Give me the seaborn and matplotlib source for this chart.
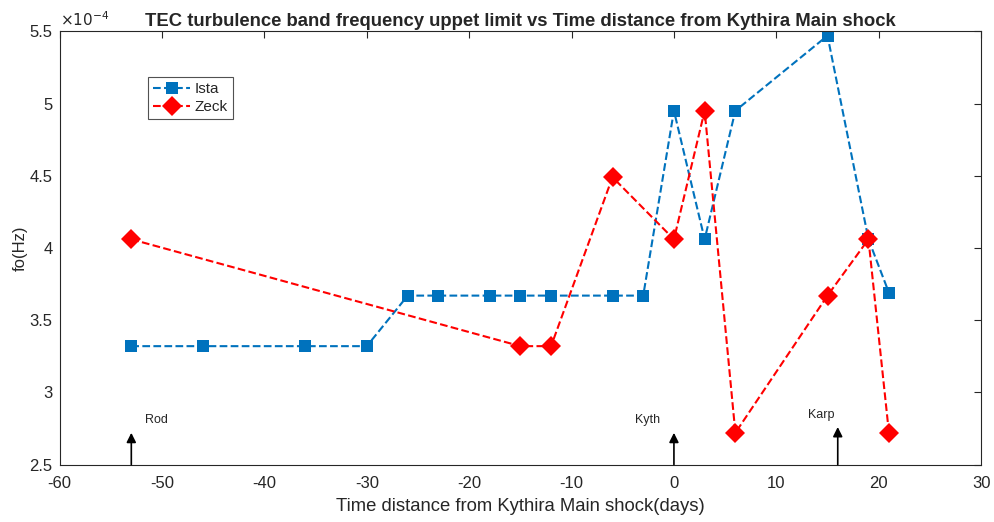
import numpy as np
import pandas as pd
import matplotlib
matplotlib.use('Agg')
import matplotlib.pyplot as plt
import seaborn as sns
from matplotlib.ticker import FuncFormatter, MultipleLocator

# Data (days, Hz)
ista_days = [-53, -46, -36, -30, -26, -23, -18, -15, -12, -6, -3, 0, 3, 6, 15, 19, 21]
ista_fo = [3.32e-4, 3.32e-4, 3.32e-4, 3.32e-4, 3.67e-4, 3.67e-4, 3.67e-4, 3.67e-4,
           3.67e-4, 3.67e-4, 3.67e-4, 4.95e-4, 4.06e-4, 4.95e-4, 5.47e-4, 4.06e-4, 3.69e-4]
zeck_days = [-53, -15, -12, -6, 0, 3, 6, 15, 19, 21]
zeck_fo = [4.06e-4, 3.32e-4, 3.32e-4, 4.49e-4, 4.06e-4, 4.95e-4, 2.72e-4, 3.67e-4, 4.06e-4, 2.72e-4]

quake_names = ['Rod', 'Kyth', 'Karp']
quake_days = [-53, 0, 16]
arrow_tops = [2.72e-4, 2.72e-4, 2.76e-4]
label_pos = [(-50.5, 2.81e-4), (-2.6, 2.81e-4), (14.4, 2.84e-4)]

sns.set_style('white')
plt.rcParams['font.family'] = ['Liberation Sans', 'DejaVu Sans']
plt.rcParams['axes.unicode_minus'] = False

fig, ax = plt.subplots(figsize=(9.94, 5.22), dpi=100)
fig.subplots_adjust(left=0.06, right=0.987, top=0.94, bottom=0.11)

sns.lineplot(x=ista_days, y=ista_fo, ax=ax, color='#0072BD', linestyle='--',
             marker='s', markersize=9, markeredgewidth=0, linewidth=1.5,
             label='Ista', sort=False)
sns.lineplot(x=zeck_days, y=zeck_fo, ax=ax, color='#FF0000', linestyle='--',
             marker='D', markersize=10, markeredgewidth=0, linewidth=1.5,
             label='Zeck', sort=False)

# earthquake arrows
for name, d, top, (lx, ly) in zip(quake_names, quake_days, arrow_tops, label_pos):
    ax.annotate('', xy=(d, top), xytext=(d, 2.5e-4),
                arrowprops=dict(arrowstyle='-|>', color='black', lw=1.2,
                                mutation_scale=14, shrinkA=0, shrinkB=0))
    ax.text(lx, ly, name, fontsize=9, ha='center', va='center')

ax.set_xlim(-60, 30)
ax.set_ylim(2.5e-4, 5.5e-4)
ax.xaxis.set_major_locator(MultipleLocator(10))
ax.yaxis.set_major_locator(MultipleLocator(0.5e-4))
ax.yaxis.set_major_formatter(FuncFormatter(lambda v, p: f'{v * 1e4:g}'))
ax.text(0.0, 1.005, r'$\times10^{-4}$', transform=ax.transAxes, fontsize=11,
        color='#262626', ha='left', va='bottom')

ax.tick_params(direction='in', length=5, top=True, right=True, labelsize=12,
               colors='#262626', width=0.8)
ax.tick_params(axis='x', pad=8)
ax.tick_params(axis='y', pad=5)
for s in ax.spines.values():
    s.set_color('#262626')
    s.set_linewidth(0.8)

ax.set_xlabel('Time distance from Kythira Main shock(days)', fontsize=13.3, color='#262626',
              labelpad=5)
ax.set_ylabel('fo(Hz)', fontsize=12, color='#262626', labelpad=1)
ax.set_title('TEC turbulence band frequency uppet limit vs Time distance from Kythira Main shock',
             fontsize=13.3, fontweight='bold', pad=4)

leg = ax.legend(loc='upper left', bbox_to_anchor=(0.096, 0.895), frameon=True,
                fancybox=False, edgecolor='#262626', fontsize=11, borderaxespad=0,
                handlelength=2.4, borderpad=0.35, labelspacing=0.25, handletextpad=0.3)
leg.get_frame().set_linewidth(0.8)

plt.savefig('out.png', dpi=100)
